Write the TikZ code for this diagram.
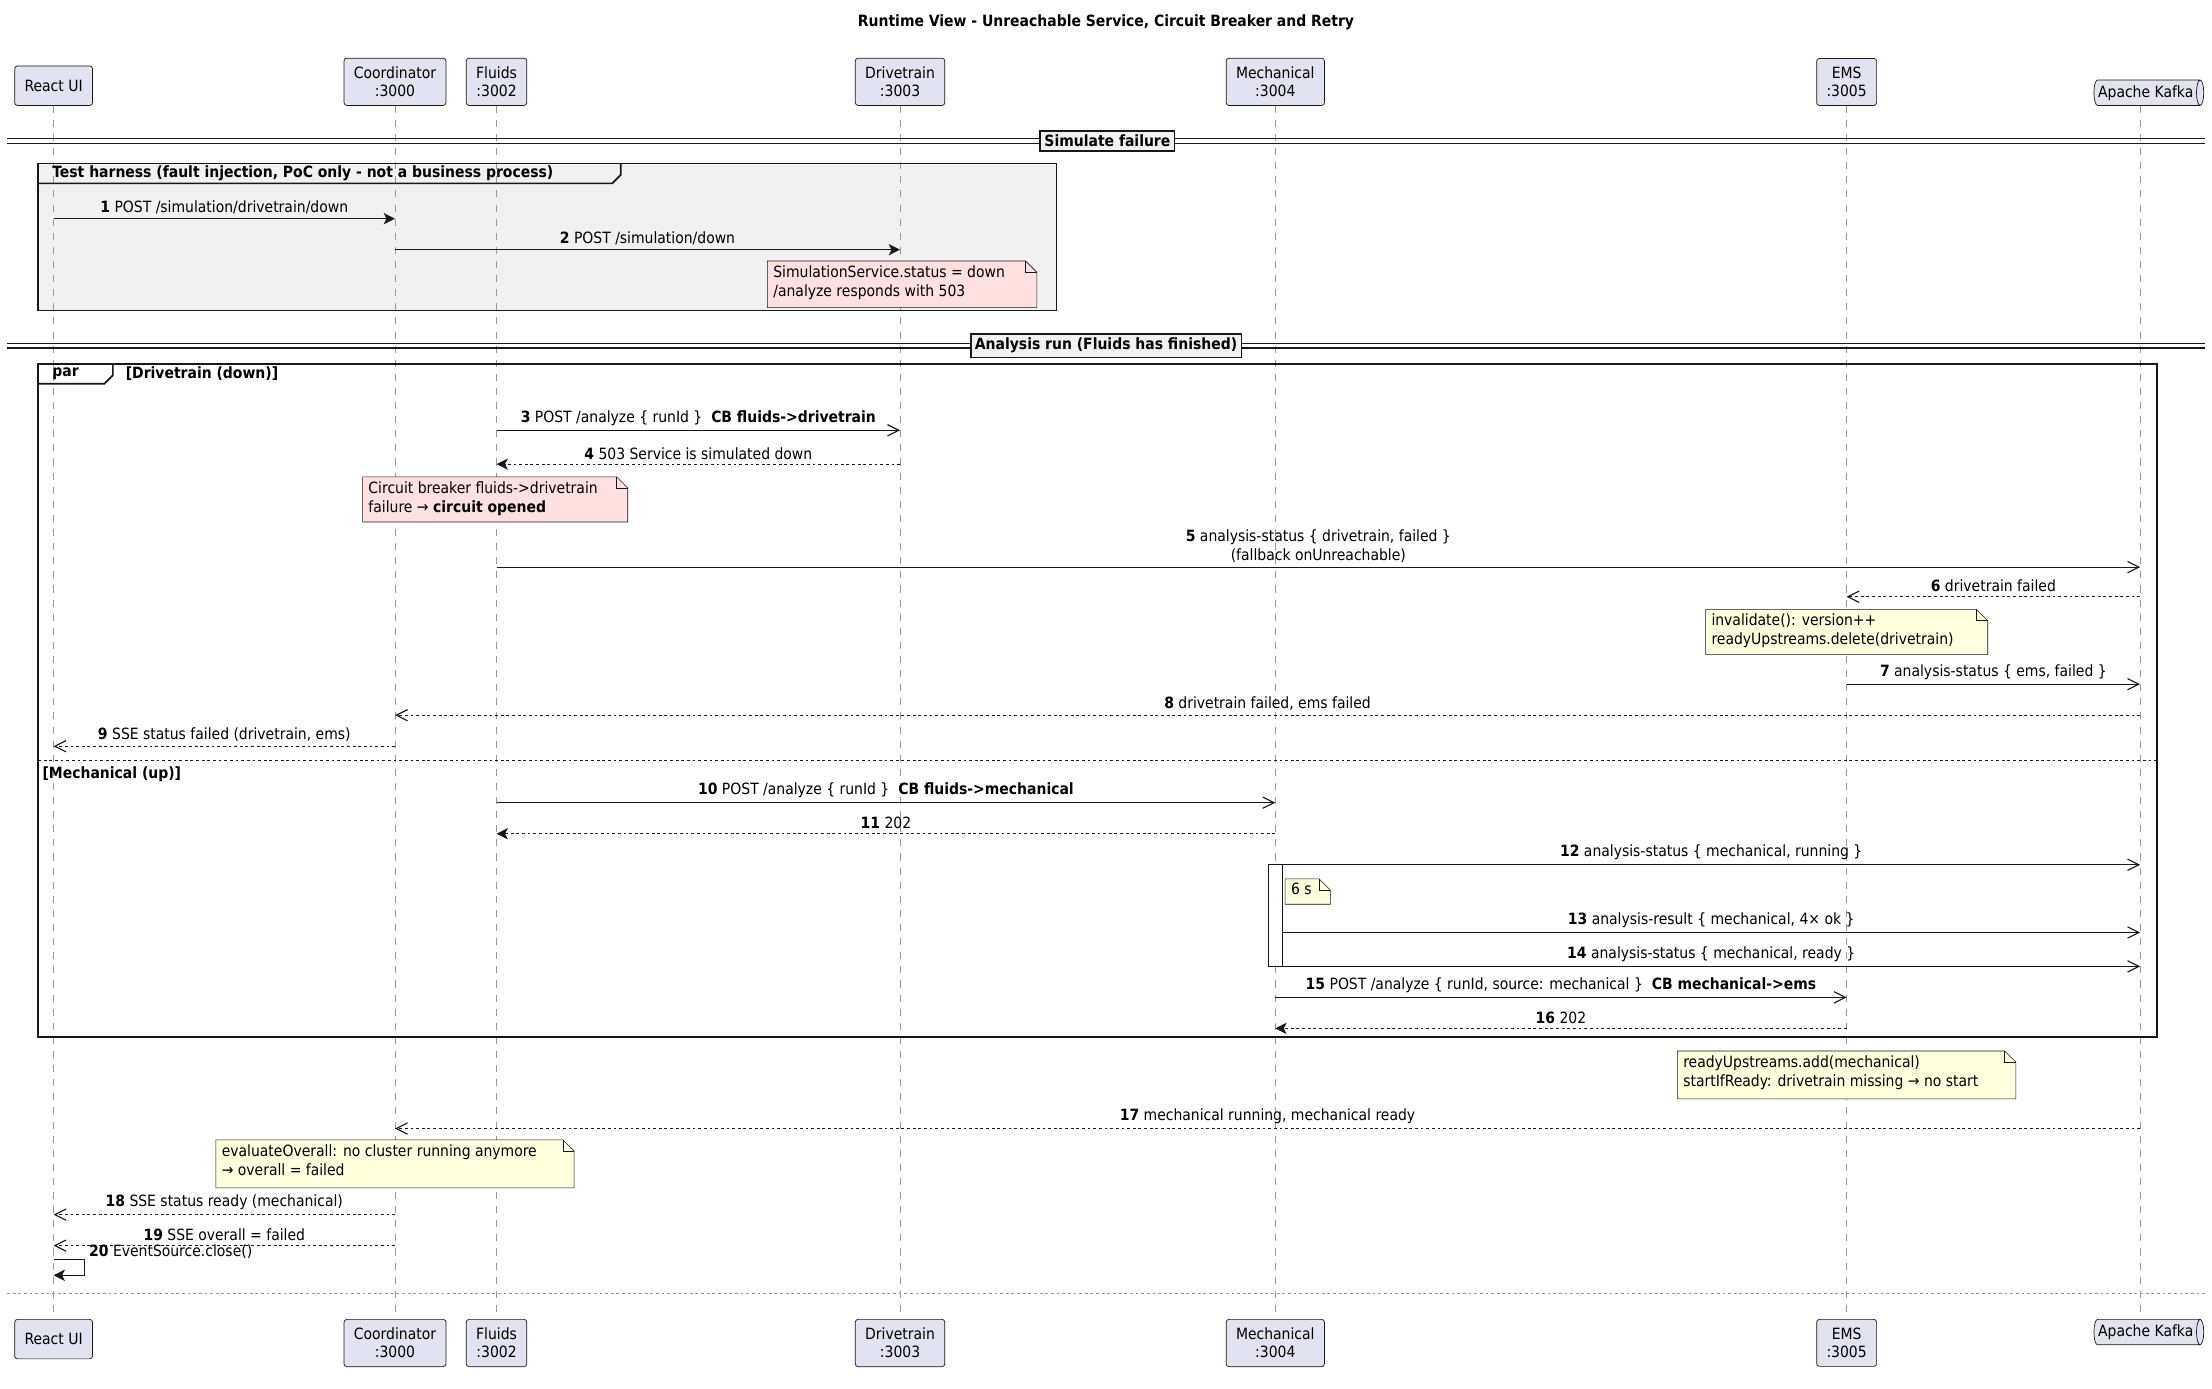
\documentclass[tikz,border=0pt]{standalone}
\usepackage{fontspec}
\setmainfont{DejaVu Sans Condensed}
\usetikzlibrary{arrows.meta,shapes.geometric}
\definecolor{partfill}{HTML}{E2E2F0}
\definecolor{noteY}{HTML}{FEFFDD}
\definecolor{noteP}{HTML}{FFE0E0}
\definecolor{grpfill}{HTML}{F1F1F1}
\definecolor{ln}{HTML}{181818}
\tikzset{
  lbl/.style={font=\fontsize{11}{13}\selectfont, inner sep=1pt, text=black},
  part/.style={draw=ln, fill=partfill, rounded corners=2pt, font=\fontsize{11}{13}\selectfont, align=center, inner xsep=7pt, inner ysep=6pt, line width=0.5pt},
  life/.style={draw=gray!80, dash pattern=on 5pt off 5pt, line width=0.5pt},
  sync/.style={draw=ln, line width=0.8pt, -{Stealth[length=8pt,width=8pt,inset=2pt]}},
  async/.style={draw=ln, line width=0.8pt, -{Straight Barb[length=8pt,width=8pt]}},
  rsync/.style={sync, dash pattern=on 2pt off 2pt},
  rasync/.style={async, dash pattern=on 2pt off 2pt},
  notetxt/.style={font=\fontsize{11}{13.5}\selectfont, align=left, anchor=north west, inner sep=0pt},
}
\newcommand\mymsg[6]{%
  \coordinate (#1a) at (#2,#4); \coordinate (#1b) at (#3,#4);
  \draw[#5] (#1a) -- (#1b) node[midway, above=2pt, lbl, align=center]{#6};}
\newcommand\mynote[6]{%
  \fill[#5] (#1,#2) -- (#3-8,#2) -- (#3,#2+8) -- (#3,#4) -- (#1,#4) -- cycle;
  \draw[ln, line width=0.4pt] (#1,#2) -- (#3-8,#2) -- (#3,#2+8) -- (#3,#4) -- (#1,#4) -- cycle;
  \draw[ln, line width=0.4pt] (#3-8,#2) -- (#3-8,#2+8) -- (#3,#2+8);
  \node[notetxt] at (#1+4,#2+3) {#6};}
\newcommand\mydivider[4]{%
  \draw[ln, line width=0.9pt] (5,#1-1.6) -- (1563,#1-1.6) (5,#1+1.6) -- (1563,#1+1.6);
  \node[draw=ln, line width=1.2pt, fill=grpfill, font=\bfseries\fontsize{11}{13}\selectfont, inner sep=3pt] (#4) at (#2,#1) {#3};}
\begin{document}
\begin{tikzpicture}[x=1pt,y=-1pt]
\useasboundingbox (0,0) rectangle (1568,984.6);
\fill[white] (0,0) rectangle (1568,984.6);
\def\R{38}\def\C{280}\def\F{352}\def\D{638}\def\M{904}\def\E{1309}\def\K{1517}
% title
\node[font=\bfseries\fontsize{11}{13}\selectfont] (title) at (784,16) {Runtime View - Unreachable Service, Circuit Breaker and Retry};
% group backgrounds first
\fill[grpfill] (27,116) rectangle (749,220);
% lifelines
\foreach \n/\x in {R/\R,C/\C,F/\F,D/\D,M/\M,E/\E,K/\K}{
  \coordinate (\n top) at (\x,75); \coordinate (\n bot) at (\x,935);
  \draw[life] (\n top) -- (\n bot);}
% participants top
\node[part, anchor=south, minimum height=28pt] (pR) at (\R,75) {React UI};
\node[part, anchor=south] (pC) at (\C,75) {Coordinator\\:3000};
\node[part, anchor=south] (pF) at (\F,75) {Fluids\\:3002};
\node[part, anchor=south] (pD) at (\D,75) {Drivetrain\\:3003};
\node[part, anchor=south] (pM) at (\M,75) {Mechanical\\:3004};
\node[part, anchor=south] (pE) at (\E,75) {EMS\\:3005};
\node[draw=ln, fill=partfill, shape=cylinder, shape aspect=0.35, minimum height=74pt, minimum width=18pt, inner sep=2pt, font=\fontsize{11}{13}\selectfont, anchor=south, line width=0.5pt] (pK) at (\K+4,75) {Apache Kafka};
% participants bottom
\node[part, anchor=north, minimum height=28pt] (qR) at (\R,935) {React UI};
\node[part, anchor=north] (qC) at (\C,935) {Coordinator\\:3000};
\node[part, anchor=north] (qF) at (\F,935) {Fluids\\:3002};
\node[part, anchor=north] (qD) at (\D,935) {Drivetrain\\:3003};
\node[part, anchor=north] (qM) at (\M,935) {Mechanical\\:3004};
\node[part, anchor=north] (qE) at (\E,935) {EMS\\:3005};
\node[draw=ln, fill=partfill, shape=cylinder, shape aspect=0.35, minimum height=74pt, minimum width=18pt, inner sep=2pt, font=\fontsize{11}{13}\selectfont, anchor=north, line width=0.5pt] (qK) at (\K+4,935) {Apache Kafka};
% divider 1
\mydivider{100}{785}{Simulate failure}{div1}
% test harness group
\draw[ln, line width=1.2pt] (27,116) rectangle (749,220);
\draw[ln, line width=1.2pt] (27,130) -- (434,130) -- (440,124) -- (440,116);
\node[font=\bfseries\fontsize{11}{13}\selectfont, anchor=west, inner sep=0pt] (g1) at (37,123) {Test harness (fault injection, PoC only - not a business process)};
\mymsg{m1}{\R}{\C}{155}{sync}{\textbf{1} POST /simulation/drivetrain/down}
\mymsg{m2}{\C}{\D}{177}{sync}{\textbf{2} POST /simulation/down}
\mynote{544}{185}{735}{218}{noteP}{SimulationService.status = down\\/analyze responds with 503}
% divider 2
\mydivider{245}{784}{Analysis run (Fluids has finished)}{div2}
% par group
\draw[ln, line width=1.2pt] (27,258) rectangle (1529,735);
\draw[ln, line width=1.2pt] (27,272) -- (74,272) -- (80,266) -- (80,258);
\node[font=\bfseries\fontsize{11}{13}\selectfont, anchor=west, inner sep=0pt] (g2) at (37,265) {par};
\node[font=\bfseries\fontsize{11}{13}\selectfont, anchor=west, inner sep=0pt] (g2b) at (89,265) {[Drivetrain (down)]};
\mymsg{m3}{\F}{\D}{305}{async}{\textbf{3} POST /analyze \{ runId \}\ \ \textbf{CB fluids->drivetrain}}
\mymsg{m4}{\D}{\F}{329}{rsync}{\textbf{4} 503 Service is simulated down}
\mynote{257}{338}{445}{370}{noteP}{Circuit breaker fluids->drivetrain\\failure → \textbf{circuit opened}}
\mymsg{m5}{\F}{\K}{402}{async}{\textbf{5} analysis-status \{ drivetrain, failed \}\\(fallback onUnreachable)}
\mymsg{m6}{\K}{\E}{423}{rasync}{\textbf{6} drivetrain failed}
\mynote{1209}{432}{1409}{464}{noteY}{invalidate(): version++\\readyUpstreams.delete(drivetrain)}
\mymsg{m7}{\E}{\K}{485}{async}{\textbf{7} analysis-status \{ ems, failed \}}
\mymsg{m8}{\K}{\C}{507}{rasync}{\textbf{8} drivetrain failed, ems failed}
\mymsg{m9}{\C}{\R}{529}{rasync}{\textbf{9} SSE status failed (drivetrain, ems)}
\draw[ln, line width=0.6pt, dash pattern=on 2pt off 2pt] (27,539) -- (1529,539);
\node[font=\bfseries\fontsize{11}{13}\selectfont, anchor=west, inner sep=0pt] (g2c) at (30,549) {[Mechanical (up)]};
\mymsg{m10}{\F}{\M}{569}{async}{\textbf{10} POST /analyze \{ runId \}\ \ \textbf{CB fluids->mechanical}}
\mymsg{m11}{\M}{\F}{591}{rsync}{\textbf{11} 202}
% activation
\draw[ln, fill=white, line width=0.5pt] (899,613) rectangle (909,685);
\mymsg{m12}{909}{\K}{613}{async}{\textbf{12} analysis-status \{ mechanical, running \}}
\mynote{911}{623}{943}{641}{noteY}{6 s}
\mymsg{m13}{909}{\K}{661}{async}{\textbf{13} analysis-result \{ mechanical, 4× ok \}}
\mymsg{m14}{909}{\K}{685}{async}{\textbf{14} analysis-status \{ mechanical, ready \}}
\mymsg{m15}{\M}{\E}{707}{async}{\textbf{15} POST /analyze \{ runId, source: mechanical \}\ \ \textbf{CB mechanical->ems}}
\mymsg{m16}{\E}{\M}{729}{rsync}{\textbf{16} 202}
% after par
\mynote{1189}{745}{1429}{779}{noteY}{readyUpstreams.add(mechanical)\\startIfReady: drivetrain missing → no start}
\mymsg{m17}{\K}{\C}{800}{rasync}{\textbf{17} mechanical running, mechanical ready}
\mynote{153}{808}{407}{842}{noteY}{evaluateOverall: no cluster running anymore\\→ overall = failed}
\mymsg{m18}{\C}{\R}{861}{rasync}{\textbf{18} SSE status ready (mechanical)}
\mymsg{m19}{\C}{\R}{883}{rasync}{\textbf{19} SSE overall = failed}
% self message
\coordinate (m20a) at (\R,893); \coordinate (m20b) at (\R,904);
\draw[sync] (m20a) -- ++(22,0) |- (m20b);
\node[lbl, anchor=south west] (m20l) at (\R+24,893) {\textbf{20} EventSource.close()};
% bottom separator
\draw[gray!80, dash pattern=on 2pt off 2pt, line width=0.6pt] (5,917) -- (1563,917);
\end{tikzpicture}
\end{document}
